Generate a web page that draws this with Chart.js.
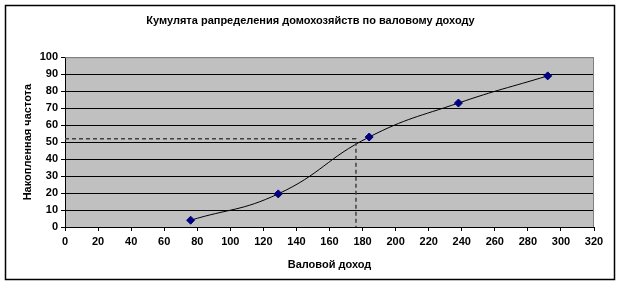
<!DOCTYPE html>
<html lang="ru">
<head>
<meta charset="UTF-8">
<title>Кумулята</title>
<script src="https://cdn.jsdelivr.net/npm/chart.js"></script>
<style>
  html, body { margin: 0; padding: 0; background: #fff; }
  #wrap { width: 621px; height: 292px; }
</style>
</head>
<body>
<div id="wrap"><canvas id="chart" width="621" height="292"></canvas></div>
<script>
// data
const incomes = [76, 129, 184, 238, 292];
const cumFreq = [4, 19.5, 53, 73, 89];
const medianX = 176;
const medianY = 52;
const xTicks = [0, 20, 40, 60, 80, 100, 120, 140, 160, 180, 200, 220, 240, 260, 280, 300, 320];
const yTicks = [0, 10, 20, 30, 40, 50, 60, 70, 80, 90, 100];

const font = { family: '"Liberation Sans", Arial, sans-serif', size: 11, weight: 'bold' };

// grey plot area + outer frame
const frame = {
  id: 'frame',
  beforeDraw(chart) {
    const { ctx, chartArea: a } = chart;
    ctx.save();
    ctx.fillStyle = '#fff';
    ctx.fillRect(0, 0, chart.width, chart.height);
    ctx.fillStyle = '#c0c0c0';
    ctx.fillRect(a.left, a.top, a.right - a.left, a.bottom - a.top);
    ctx.restore();
  },
  afterDraw(chart) {
    const { ctx, chartArea: a } = chart;
    ctx.save();
    ctx.strokeStyle = '#808080';
    ctx.lineWidth = 1;
    ctx.beginPath();
    ctx.moveTo(a.left, a.top + 0.5);
    ctx.lineTo(a.right - 0.5, a.top + 0.5);
    ctx.lineTo(a.right - 0.5, a.bottom);
    ctx.stroke();
    ctx.strokeStyle = '#000';
    ctx.lineWidth = 1.5;
    ctx.strokeRect(5.5, 5.5, 609, 274);
    ctx.restore();
  }
};

new Chart(document.getElementById('chart'), {
  type: 'scatter',
  data: {
    datasets: [
      {
        label: 'median',
        data: [{ x: 0, y: medianY }, { x: medianX, y: medianY }, { x: medianX, y: 0 }],
        showLine: true,
        borderColor: '#404040',
        borderWidth: 1.5,
        borderDash: [4, 3],
        pointRadius: 0,
        tension: 0
      },
      {
        label: 'cum',
        data: incomes.map((x, i) => ({ x: x, y: cumFreq[i] })),
        showLine: true,
        borderColor: '#000',
        borderWidth: 1,
        tension: 0.45,
        pointStyle: 'rectRot',
        pointRadius: 4,
        pointBackgroundColor: '#000080',
        pointBorderColor: '#000080'
      }
    ]
  },
  options: {
    responsive: false,
    animation: false,
    layout: { padding: 0 },
    plugins: {
      legend: { display: false },
      tooltip: { enabled: false },
      title: {
        display: true,
        text: 'Кумулята рапределения домохозяйств по валовому доходу',
        color: '#000',
        font: font,
        padding: { top: 14, bottom: 30 }
      }
    },
    scales: {
      x: {
        type: 'linear',
        min: 0, max: 320,
        afterBuildTicks: s => { s.ticks = xTicks.map(v => ({ value: v })); },
        afterFit: s => { s.height = 65; },
        ticks: { color: '#000', font: font, padding: 4, maxRotation: 0 },
        grid: { drawOnChartArea: false, drawTicks: true, tickLength: 4, tickColor: '#000' },
        border: { color: '#000', width: 1 },
        title: { display: true, text: 'Валовой доход', color: '#000', font: font, padding: { top: 0, bottom: 20 } }
      },
      y: {
        min: 0, max: 100,
        afterBuildTicks: s => { s.ticks = yTicks.map(v => ({ value: v })); },
        afterFit: s => { s.width = 65; },
        ticks: { color: '#000', font: font, padding: 3 },
        grid: {
          color: c => c.tick && c.tick.value === 100 ? '#808080' : '#000',
          lineWidth: 1,
          tickLength: 4,
          tickColor: '#000'
        },
        border: { color: '#000', width: 1 },
        title: { display: true, text: 'Накопленная частота', color: '#000', font: font, padding: { top: 21, bottom: 0 } }
      },
      // empty right margin
      yRight: {
        position: 'right',
        min: 0, max: 100,
        afterFit: s => { s.width = 27; },
        ticks: { display: false },
        grid: { display: false },
        border: { display: false }
      }
    }
  },
  plugins: [frame]
});
</script>
</body>
</html>
